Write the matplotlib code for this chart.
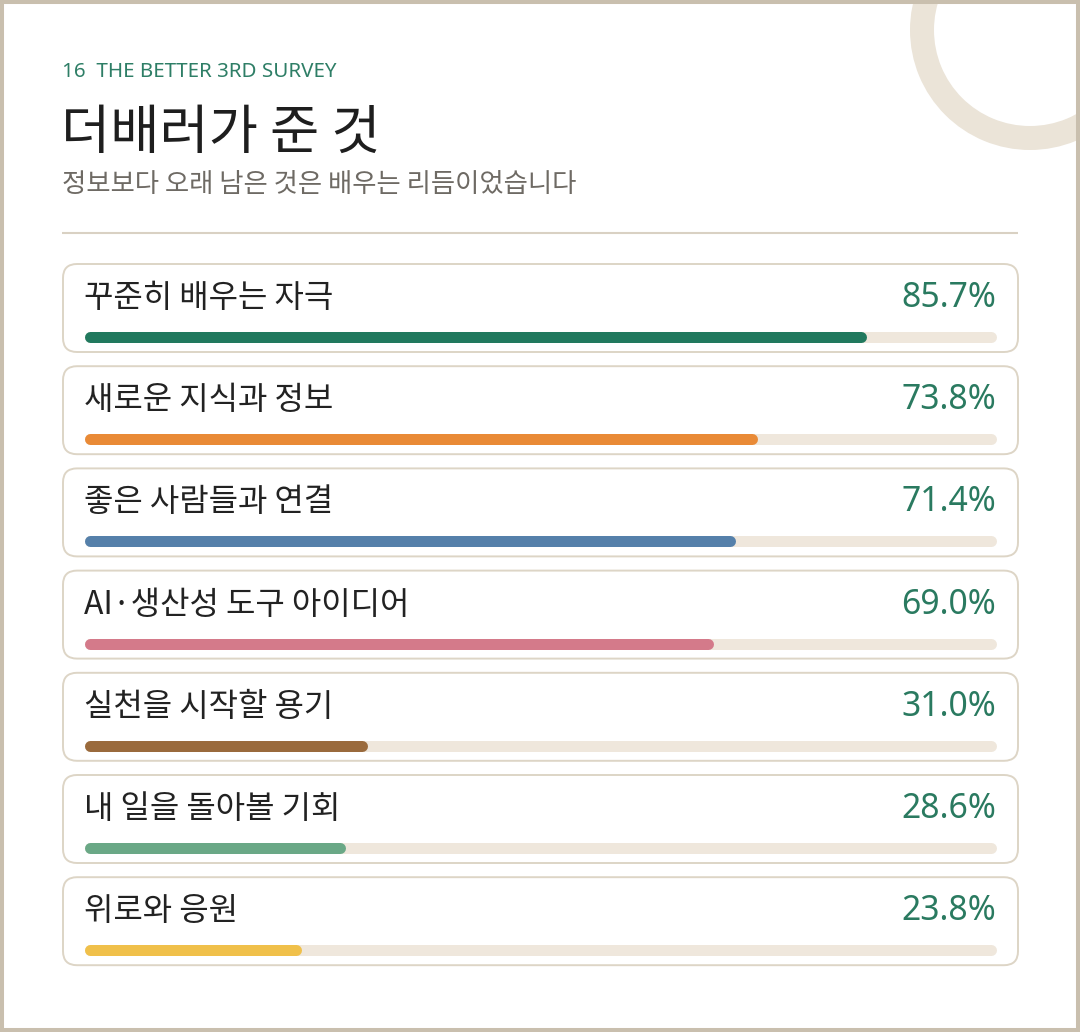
import matplotlib.pyplot as plt
from matplotlib.patches import FancyBboxPatch, Rectangle, Wedge

# data
labels = ['꾸준히 배우는 자극', '새로운 지식과 정보', '좋은 사람들과 연결',
          'AI·생산성 도구 아이디어', '실천을 시작할 용기', '내 일을 돌아볼 기회', '위로와 응원']
values = [85.7, 73.8, 71.4, 69.0, 31.0, 28.6, 23.8]
colors = ['#21795e', '#e98a36', '#5580aa', '#d47a8a', '#9a6a3c', '#6aa886', '#f0c04a']

kicker = '16  THE BETTER 3RD SURVEY'
title = '더배러가 준 것'
subtitle = '정보보다 오래 남은 것은 배우는 리듬이었습니다'

KR = ['Noto Sans CJK KR', 'DejaVu Sans']
LAT = ['Noto Sans', 'DejaVu Sans']

W, H = 1080, 1032
fig = plt.figure(figsize=(W / 100, H / 100), dpi=100)
fig.patch.set_facecolor('white')

# background axes in pixel units
ax = fig.add_axes([0, 0, 1, 1])
ax.set_xlim(0, W)
ax.set_ylim(H, 0)
ax.axis('off')

# decorative ring top right
ax.add_patch(Wedge((1030, 30), 120, 0, 360, width=24, color='#ebe4d8', lw=0, zorder=1))

# outer frame
ax.add_patch(Rectangle((2, 2), W - 4, H - 4, fill=False, ec='#c9bfae', lw=2.9, zorder=5))

# header
ax.text(62, 72, kicker, family=LAT, fontsize=14.8, color='#2e7e66', va='center', ha='left')
ax.text(61, 133, title, family=KR, fontsize=38.5, color='#1e1e1e', va='center', ha='left')
ax.text(62, 184, subtitle, family=KR, fontsize=19, color='#6e6a64', va='center', ha='left')
ax.plot([62, 1018], [233, 233], color='#d9d1c3', lw=1.5, solid_capstyle='butt')

# cards
top0 = 264
pitch = 102.2
card_h = 88
tops = [top0 + i * pitch for i in range(len(labels))]

for t, lab, v in zip(tops, labels, values):
    ax.add_patch(FancyBboxPatch((63, t), 955, card_h,
                                boxstyle='round,pad=0,rounding_size=14',
                                fc='white', ec='#ddd5c6', lw=1.4, zorder=2))
    ax.text(84, t + 34, lab, family=KR, fontsize=23, color='#222222',
            va='center', ha='left', zorder=3)
    ax.text(996, t + 34, f'{v:.1f}%', family=LAT, fontsize=24.3, color='#2a7a60',
            va='center', ha='right', zorder=3)

# bars axes: x in percent, y in pixels
x0, x1 = 84, 997
bx = fig.add_axes([x0 / W, 0, (x1 - x0) / W, 1])
bx.set_xlim(0, 100)
bx.set_ylim(H, 0)
bx.axis('off')
bx.patch.set_alpha(0)

bar_px = 11
cap = (bar_px / 2) * 100 / (x1 - x0)  # round cap length in percent units
for t, v, c in zip(tops, values, colors):
    yc = t + 73
    bx.plot([cap, 100 - cap], [yc, yc], color='#efe7dc', lw=bar_px * 0.72,
            solid_capstyle='round', zorder=3)
    bx.plot([cap, v - cap], [yc, yc], color=c, lw=bar_px * 0.72,
            solid_capstyle='round', zorder=4)

fig.savefig('out.png', dpi=100, facecolor='white')
